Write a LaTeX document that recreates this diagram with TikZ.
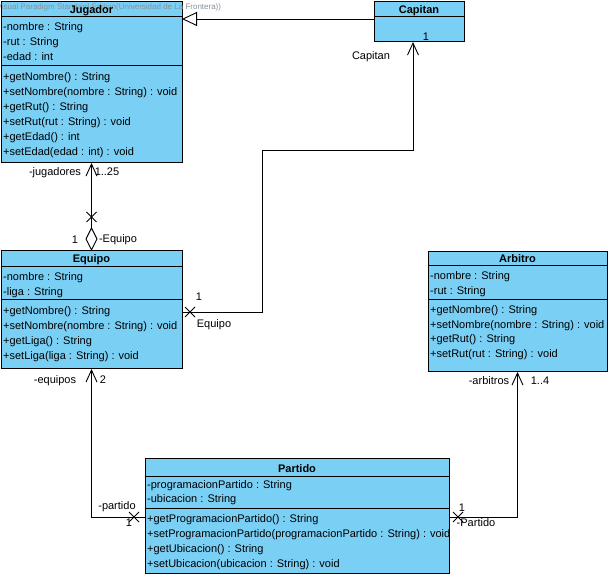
\documentclass[tikz,border=0pt]{standalone}
\usepackage{fontspec}
\setmainfont{Liberation Sans}
\usetikzlibrary{arrows.meta}
\definecolor{clsfill}{RGB}{122,207,245}
\definecolor{wmark}{RGB}{135,145,155}
\begin{document}
\begin{tikzpicture}[x=1pt,y=-1pt,
  classbox/.style={draw=black, fill=clsfill, line width=1pt, anchor=north west, inner sep=0pt, outer sep=0pt},
  txt/.style={anchor=base west, inner sep=0pt, font=\fontsize{11}{13}\selectfont},
  ttl/.style={anchor=base, inner sep=0pt, font=\fontsize{11}{13}\selectfont\bfseries},
  lbl/.style={inner sep=0pt, font=\fontsize{11}{13}\selectfont},
  divider/.style={draw=black, line width=1pt},
  conn/.style={draw=black, line width=0.9pt},
  openarrow/.style={-{Straight Barb[length=12pt,width=11pt]}},
  crossmark/.style={draw=black, line width=0.9pt}
]
\useasboundingbox (0,0) rectangle (611,577);
\fill[white] (0,0) rectangle (611,577);

% ---------- Jugador ----------
\node[classbox, minimum width=181pt, minimum height=161pt] (jug) at (1,2) {};
\node[anchor=base west, inner sep=0pt, text=wmark, font=\fontsize{8}{9}\selectfont] (wm) at (-3.5,10) {Visual Paradigm Standard Edition(Universidad de La Frontera))};
\draw[divider] (1,17) -- (182,17);
\draw[divider] (1,66) -- (182,66);
\node[ttl] (jugt) at (91.5,14) {Jugador};
\node[txt] (ja1) at (3,31) {-nombre : String};
\node[txt] (ja2) at (3,46) {-rut : String};
\node[txt] (ja3) at (3,61) {-edad : int};
\node[txt] (jm1) at (3,81) {+getNombre() : String};
\node[txt] (jm2) at (3,96) {+setNombre(nombre : String) : void};
\node[txt] (jm3) at (3,111) {+getRut() : String};
\node[txt] (jm4) at (3,126) {+setRut(rut : String) : void};
\node[txt] (jm5) at (3,141) {+getEdad() : int};
\node[txt] (jm6) at (3,156) {+setEdad(edad : int) : void};

% ---------- Capitan ----------
\node[classbox, minimum width=90pt, minimum height=40pt] (cap) at (374,2) {};
\draw[divider] (374,17) -- (464,17);
\node[ttl] (capt) at (419,14) {Capitan};

% ---------- Equipo ----------
\node[classbox, minimum width=181pt, minimum height=118pt] (equ) at (1,251) {};
\draw[divider] (1,267) -- (182,267);
\draw[divider] (1,300) -- (182,300);
\node[ttl] (equt) at (91.5,263) {Equipo};
\node[txt] (ea1) at (3,281) {-nombre : String};
\node[txt] (ea2) at (3,296) {-liga : String};
\node[txt] (em1) at (3,315) {+getNombre() : String};
\node[txt] (em2) at (3,330) {+setNombre(nombre : String) : void};
\node[txt] (em3) at (3,345) {+getLiga() : String};
\node[txt] (em4) at (3,360) {+setLiga(liga : String) : void};

% ---------- Arbitro ----------
\node[classbox, minimum width=179pt, minimum height=120pt] (arb) at (428,252) {};
\draw[divider] (428,266) -- (607,266);
\draw[divider] (428,300) -- (607,300);
\node[ttl] (arbt) at (517.5,263) {Arbitro};
\node[txt] (aa1) at (430,280) {-nombre : String};
\node[txt] (aa2) at (430,295) {-rut : String};
\node[txt] (am1) at (430,314) {+getNombre() : String};
\node[txt] (am2) at (430,329) {+setNombre(nombre : String) : void};
\node[txt] (am3) at (430,343) {+getRut() : String};
\node[txt] (am4) at (430,358) {+setRut(rut : String) : void};

% ---------- Partido ----------
\node[classbox, minimum width=304pt, minimum height=114pt] (par) at (145,459) {};
\draw[divider] (145,476) -- (449,476);
\draw[divider] (145,508) -- (449,508);
\node[ttl] (part) at (297,472) {Partido};
\node[txt] (pa1) at (147,488) {-programacionPartido : String};
\node[txt] (pa2) at (147,503) {-ubicacion : String};
\node[txt] (pm1) at (147,522) {+getProgramacionPartido() : String};
\node[txt] (pm2) at (147,537) {+setProgramacionPartido(programacionPartido : String) : void};
\node[txt] (pm3) at (147,552) {+getUbicacion() : String};
\node[txt] (pm4) at (147,567) {+setUbicacion(ubicacion : String) : void};

% ---------- Generalization Capitan -> Jugador ----------
\coordinate (g1) at ([yshift=3pt]cap.west);
\draw[conn, -{Triangle[open, length=15pt, width=14pt]}] (g1) -- (g1 -| jug.east);

% ---------- Equipo <>-- Jugador ----------
\draw[conn, {Diamond[open, length=24pt, width=12pt]}-{Straight Barb[length=12pt,width=11pt]}] (equ.north) -- (jug.south);
\coordinate (x1) at (91.5,217);
\draw[crossmark] (x1) +(-5,-5) -- +(5,5) (x1) +(-5,5) -- +(5,-5);
\node[lbl] (l1) at (55,173) {-jugadores};
\node[lbl] (l2) at (107,172) {1..25};
\node[lbl] (l3) at (75,240) {1};
\node[lbl] (l4) at (118,240) {-Equipo};

% ---------- Equipo -- Capitan ----------
\coordinate (e1) at ([yshift=-2pt]equ.east);
\coordinate (b1) at (262,150);
\coordinate (c1) at ([xshift=-6pt]cap.south);
\draw[conn, openarrow] (e1) -- (e1 -| b1) -- (b1) -- (b1 -| c1) -- (c1);
\coordinate (x2) at (190,312);
\draw[crossmark] (x2) +(-5,-5) -- +(5,5) (x2) +(-5,5) -- +(5,-5);
\node[lbl] (l5) at (199,297) {1};
\node[lbl] (l6) at (214,325) {Equipo};
\node[lbl] (l7) at (371,57) {Capitan};
\node[lbl] (l8) at (426,37) {1};

% ---------- Partido -- Equipo ----------
\coordinate (p1) at ([yshift=-1pt]par.west);
\draw[conn, openarrow] (p1) -| (equ.south);
\coordinate (x3) at (134,517);
\draw[crossmark] (x3) +(-5,-5) -- +(5,5) (x3) +(-5,5) -- +(5,-5);
\node[lbl] (l9) at (55,381) {-equipos};
\node[lbl] (l10) at (103,380) {2};
\node[lbl] (l11) at (117,507) {-partido};
\node[lbl] (l12) at (129,523) {1};

% ---------- Partido -- Arbitro ----------
\coordinate (p2) at ([yshift=-1pt]par.east);
\draw[conn, openarrow] (p2) -| (arb.south);
\coordinate (x4) at (458,517);
\draw[crossmark] (x4) +(-5,-5) -- +(5,5) (x4) +(-5,5) -- +(5,-5);
\node[lbl] (l13) at (489,381) {-arbitros};
\node[lbl] (l14) at (540,381) {1..4};
\node[lbl] (l15) at (462,508) {1};
\node[lbl] (l16) at (476,523) {-Partido};
\end{tikzpicture}
\end{document}
